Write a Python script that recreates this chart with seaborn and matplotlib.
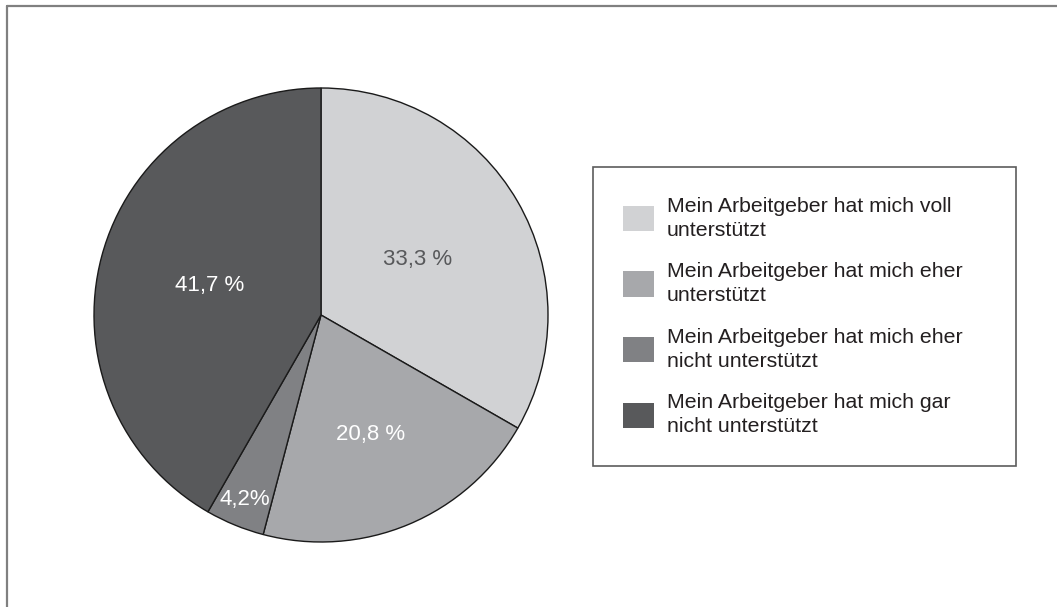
import matplotlib
matplotlib.use("Agg")
import matplotlib.pyplot as plt
from matplotlib.lines import Line2D
import numpy as np
import seaborn as sns

sns.set_theme(style="white")
plt.rcParams['font.family'] = ['Liberation Sans', 'DejaVu Sans']

categories = [
    "Mein Arbeitgeber hat mich voll\nunterstützt",
    "Mein Arbeitgeber hat mich eher\nunterstützt",
    "Mein Arbeitgeber hat mich eher\nnicht unterstützt",
    "Mein Arbeitgeber hat mich gar\nnicht unterstützt",
]
values = [33.3, 20.8, 4.2, 41.7]
value_labels = ["33,3 %", "20,8 %", "4,2%", "41,7 %"]
colors = ["#d1d2d4", "#a7a8ab", "#808184", "#58595b"]
label_colors = ["#58595b", "white", "white", "white"]
label_dist = [0.49, 0.57, 0.88, 0.51]

W, H = 1057, 607
fig = plt.figure(figsize=(W / 100, H / 100), dpi=100)
fig.patch.set_facecolor("white")

cx, cy, r = 321, 315, 227
ax = fig.add_axes([(cx - r) / W, (H - cy - r) / H, 2 * r / W, 2 * r / H])
wedges, _ = ax.pie(values, colors=colors, startangle=90, counterclock=False,
                   radius=1, wedgeprops=dict(edgecolor="#1a1a1a", linewidth=1.0))
for w, lab, c, d in zip(wedges, value_labels, label_colors, label_dist):
    ang = np.deg2rad((w.theta1 + w.theta2) / 2)
    ax.text(d * np.cos(ang), d * np.sin(ang), lab, ha="center", va="center",
            color=c, fontsize=16)
ax.set_xlim(-1, 1)
ax.set_ylim(-1, 1)
ax.set_aspect("equal")
ax.axis("off")

leg = fig.legend(wedges, categories, loc="upper left",
                 bbox_to_anchor=(593 / W, 1 - 167 / H, (1016 - 593) / W, 0),
                 mode="expand", borderaxespad=0, frameon=True, fancybox=False,
                 edgecolor="#333333", fontsize=15.3, handlelength=1.46,
                 handleheight=1.46, handletextpad=0.6, labelspacing=1.07,
                 borderpad=1.4, labelcolor="#231f20")
for t in leg.get_texts():
    t.set_linespacing(1.32)
leg.get_frame().set_linewidth(1.2)
for h in leg.legend_handles:
    h.set_edgecolor("none")

# figure border (top and left)
fig.add_artist(Line2D([6.5 / W, 1], [1 - 5.5 / H, 1 - 5.5 / H], color="#808080", lw=1.6,
                      transform=fig.transFigure))
fig.add_artist(Line2D([6.5 / W, 6.5 / W], [0, 1 - 5.5 / H], color="#808080", lw=1.6,
                      transform=fig.transFigure))

fig.savefig("out.png", dpi=100, facecolor="white")
